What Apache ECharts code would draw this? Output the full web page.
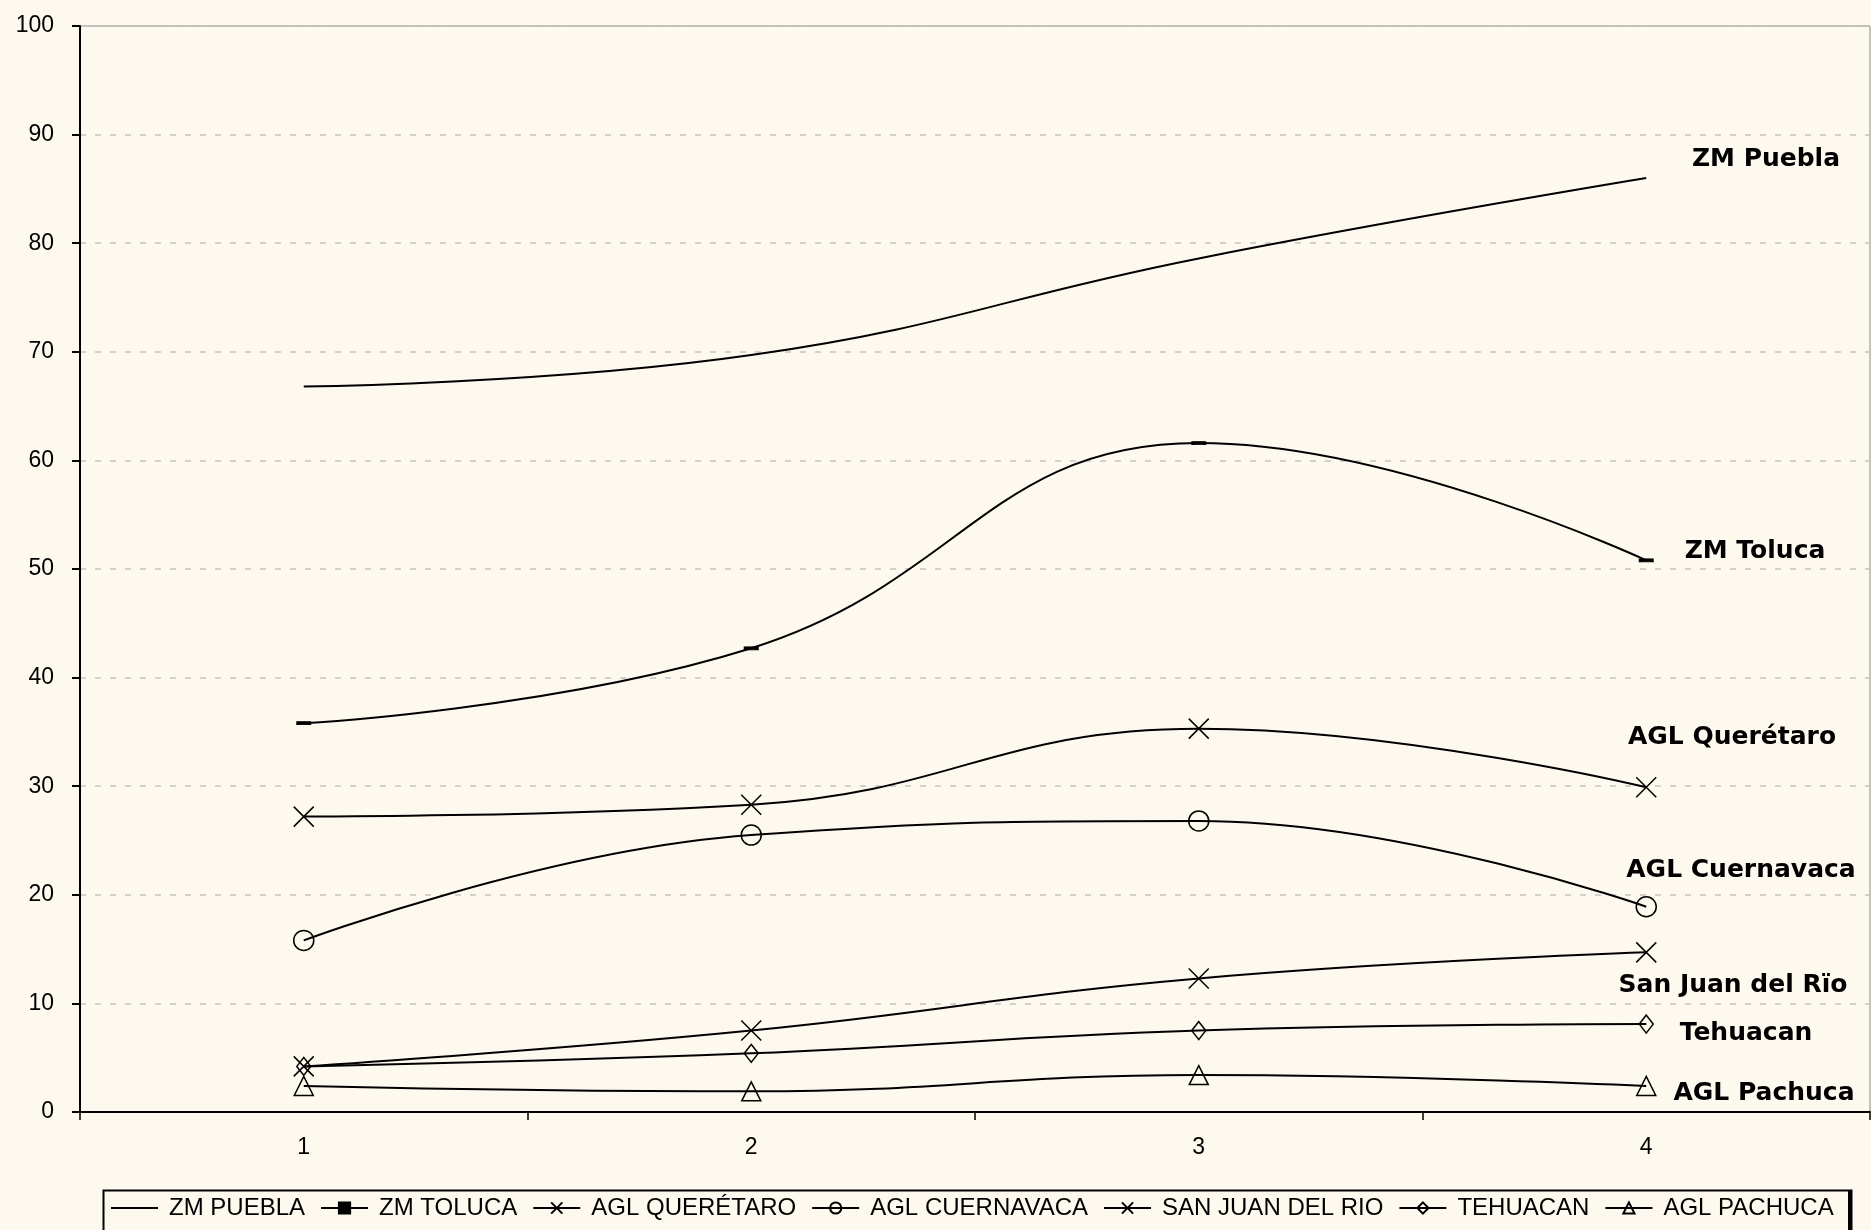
<!DOCTYPE html>
<html>
<head>
<meta charset="utf-8">
<script src="https://cdn.jsdelivr.net/npm/echarts@6/dist/echarts.min.js"></script>
<style>
html,body{margin:0;padding:0;background:#fdf9ee;}
#chart{width:1871px;height:1230px;}
</style>
</head>
<body>
<div id="chart"></div>
<script>
const categories = ['1', '2', '3', '4'];
const seriesNames = ['ZM PUEBLA', 'ZM TOLUCA', 'AGL QUERÉTARO', 'AGL CUERNAVACA', 'SAN JUAN DEL RIO', 'TEHUACAN', 'AGL PACHUCA'];
const zmPuebla = [66.8, 69.7, 78.6, 86.0];
const zmToluca = [35.8, 42.7, 61.6, 50.8];
const aglQueretaro = [27.2, 28.3, 35.3, 29.9];
const aglCuernavaca = [15.8, 25.5, 26.8, 18.9];
const sanJuanDelRio = [4.2, 7.5, 12.3, 14.7];
const tehuacan = [4.2, 5.4, 7.5, 8.1];
const aglPachuca = [2.4, 1.9, 3.4, 2.4];
const annotations = ['ZM Puebla', 'ZM Toluca', 'AGL Querétaro', 'AGL Cuernavaca', 'San Juan del Rïo', 'Tehuacan', 'AGL Pachuca'];
const yTicks = {min: 0, max: 100, interval: 10};

const seriesValues = [zmPuebla, zmToluca, aglQueretaro, aglCuernavaca, sanJuanDelRio, tehuacan, aglPachuca];
const crossPath = 'path://M0,0L10,10M10,0L0,10';
const symbols = [
  {symbol: 'circle', size: 1, hidden: true},
  {symbol: 'rect', size: [12, 3], fill: '#000'},
  {symbol: crossPath, size: 20},
  {symbol: 'circle', size: 20},
  {symbol: crossPath, size: 20},
  {symbol: 'diamond', size: [14, 18]},
  {symbol: 'triangle', size: [19, 19]}
];
// annotation text centres (px)
const annoPos = [[1766,159],[1755,551],[1732,737],[1741,870],[1733,985],[1746,1033],[1764,1093]];

const chart = echarts.init(document.getElementById('chart'));
const series = seriesNames.map((name, i) => ({
  name: name,
  type: 'line',
  data: seriesValues[i],
  smooth: 0.45,
  symbol: symbols[i].symbol,
  symbolSize: symbols[i].size,
  showSymbol: !symbols[i].hidden,
  lineStyle: {color: '#000', width: 2},
  itemStyle: symbols[i].hidden ? {color: 'rgba(0,0,0,0)', borderColor: 'rgba(0,0,0,0)', borderWidth: 0} : {
    color: symbols[i].fill || 'rgba(0,0,0,0)',
    borderColor: '#000',
    borderWidth: 1.5
  },
  emphasis: {disabled: true},
  animation: false,
  z: 3
}));

chart.setOption({
  backgroundColor: '#fdf9ee',
  animation: false,
  grid: {left: 80, right: 1, top: 26, bottom: 118, show: true, borderColor: '#8c8c8c', borderWidth: 1},
  xAxis: {
    type: 'category',
    data: categories,
    boundaryGap: true,
    axisLine: {lineStyle: {color: '#000', width: 2}},
    axisTick: {show: true, length: 8, alignWithLabel: false, lineStyle: {color: '#000', width: 1.5}},
    axisLabel: {color: '#000', fontSize: 23, fontFamily: 'Liberation Sans', margin: 24},
    splitLine: {show: false}
  },
  yAxis: {
    type: 'value',
    min: yTicks.min, max: yTicks.max, interval: yTicks.interval,
    axisLine: {show: true, lineStyle: {color: '#000', width: 2}},
    axisTick: {show: true, length: 8, lineStyle: {color: '#000', width: 2}},
    axisLabel: {color: '#000', fontSize: 23, fontFamily: 'Liberation Sans', margin: 26},
    splitLine: {show: true, lineStyle: {color: '#c4c4c4', type: [6, 9], width: 1.5}}
  },
  legend: {
    data: seriesNames,
    left: 110,
    top: 1196,
    padding: 0,
    itemWidth: 47,
    itemHeight: 14,
    itemGap: 15,
    textStyle: {color: '#000', fontSize: 24, fontFamily: 'Liberation Sans', padding: [0, 0, 0, 6]}
  },
  graphic: [
    {type: 'rect', left: 101, top: 1188, shape: {width: 1748, height: 60}, style: {fill: 'none', stroke: '#000', lineWidth: 2}, z: 1},
    {type: 'rect', left: 1848, top: 1190, shape: {width: 3, height: 60}, style: {fill: '#000'}, z: 1}
  ].concat(annotations.map((t, i) => ({
    type: 'text',
    x: annoPos[i][0], y: annoPos[i][1],
    style: {text: t, fill: '#000', font: 'bold 25px "DejaVu Sans"', textAlign: 'center', textVerticalAlign: 'middle'},
    z: 5
  }))),
  series: series
});
</script>
</body>
</html>
